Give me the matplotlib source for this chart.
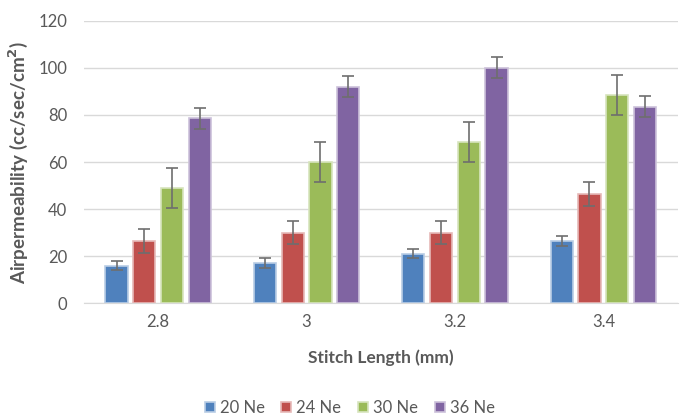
import numpy as np
import matplotlib
matplotlib.use("Agg")
import matplotlib.pyplot as plt

plt.rcParams['font.family'] = ['Lato', 'DejaVu Sans']

stitch_length = ['2.8', '3', '3.2', '3.4']
series = ['20 Ne', '24 Ne', '30 Ne', '36 Ne']
colors = ['#4F81BD', '#C0504D', '#9BBB59', '#8064A2']
edges = ['#B9CDE5', '#E6B9B8', '#D7E4BD', '#CCC1DA']

# air permeability means and error half-widths (cc/sec/cm2)
vals_20 = [16, 17, 21, 26.5]
vals_24 = [26.5, 30, 30, 46.5]
vals_30 = [49, 60, 68.5, 88.5]
vals_36 = [78.5, 92, 100, 83.5]
err_20 = [2, 2, 2, 2.2]
err_24 = [5, 5, 5, 5]
err_30 = [8.5, 8.5, 8.5, 8.5]
err_36 = [4.5, 4.5, 4.5, 4.5]

values = [vals_20, vals_24, vals_30, vals_36]
errors = [err_20, err_24, err_30, err_36]

fig = plt.figure(figsize=(6.83, 4.17), dpi=100)
ax = fig.add_axes([0.123, 0.273, 0.869, 0.677])

x = np.arange(len(stitch_length))
step = 0.187
width = 0.15
for i in range(len(series)):
    pos = x + (i - 1.5) * step
    ax.bar(pos, values[i], width, color=colors[i], edgecolor=edges[i],
           linewidth=1.2, label=series[i], zorder=3)
    ax.errorbar(pos, values[i], yerr=errors[i], fmt='none', ecolor='#6E6E6E',
                elinewidth=1.2, capsize=4, capthick=1.2, zorder=4)

ax.set_xlim(-0.5, 3.5)
ax.set_ylim(0, 120)
ax.set_yticks(range(0, 121, 20))
ax.set_xticks(x)
ax.set_xticklabels(stitch_length)
ax.grid(axis='y', color='#D9D9D9', linewidth=1, zorder=0)
for s in ['top', 'right', 'left']:
    ax.spines[s].set_visible(False)
ax.spines['bottom'].set_color('#D9D9D9')
ax.tick_params(axis='y', length=0, pad=12, labelsize=12, labelcolor='#595959')
ax.tick_params(axis='x', length=0, pad=8, labelsize=12, labelcolor='#595959')

ax.set_xlabel('Stitch Length (mm)', fontsize=12.5, fontweight='bold',
              color='#595959', labelpad=14)
ax.set_ylabel('Airpermeability (cc/sec/cm$^\\mathbf{2}$)', fontsize=13.5,
              fontweight='bold', color='#595959', labelpad=6)

fig.legend(loc='center', bbox_to_anchor=(0.512, 0.022), ncol=4,
           frameon=False, fontsize=12, handlelength=0.6, handleheight=0.6,
           columnspacing=1.0, handletextpad=0.3, labelcolor='#595959')

fig.savefig('out.png', dpi=100)
